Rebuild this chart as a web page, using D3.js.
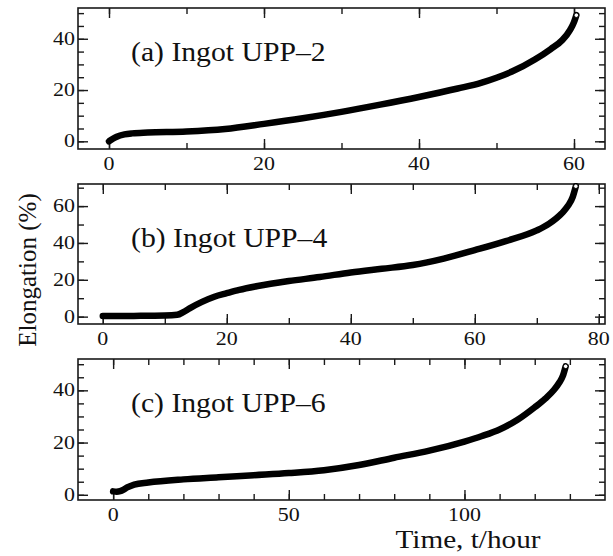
<!DOCTYPE html>
<html>
<head>
<meta charset="utf-8">
<script src="https://cdn.jsdelivr.net/npm/d3@7"></script>
<style>
  body { margin: 0; background: #fff; }
  svg { display: block; }
  text { font-family: "Liberation Serif", "Times New Roman", serif; fill: #111; }
</style>
</head>
<body>
<div id="chart"></div>
<script>
// elongation curves (t in hours, elongation in %)
const timeA = [0, 0.5, 1, 2, 3, 5, 10, 15, 20, 25, 30, 35, 40, 45, 48, 50, 52, 55, 57, 58.5, 59.5, 60, 60.3];
const elongA = [0, 1.0, 1.8, 2.7, 3.1, 3.4, 3.8, 4.8, 6.8, 9.0, 11.5, 14.3, 17.3, 20.6, 22.8, 24.8, 27.2, 32.0, 36.0, 39.5, 43.5, 46.5, 49.2];

const timeB = [0, 5, 10, 12, 13, 14, 16, 18, 20, 22, 25, 30, 35, 40, 45, 50, 55, 60, 65, 70, 72, 74, 75, 75.8, 76.3];
const elongB = [0.3, 0.4, 0.6, 1.0, 2.5, 4.5, 8.0, 10.8, 12.7, 14.5, 16.6, 19.3, 21.5, 24.0, 26.0, 28.0, 31.5, 36.1, 41.0, 46.8, 50.5, 56.0, 60.0, 65.0, 70.8];

const timeC = [0, 1, 2, 3, 4, 6, 10, 20, 30, 40, 50, 60, 70, 80, 90, 100, 105, 110, 115, 120, 123, 125.5, 127, 128, 128.8];
const elongC = [1.3, 1.2, 1.4, 2.0, 2.8, 3.9, 4.7, 5.9, 6.7, 7.5, 8.3, 9.4, 11.4, 14.2, 16.9, 20.4, 22.5, 25.0, 28.6, 33.5, 36.8, 40.2, 43.0, 45.5, 49.2];

const labels = ["(a) Ingot UPP\u20132", "(b) Ingot UPP\u20134", "(c) Ingot UPP\u20136"];

// tick values per panel
const xMajorA = [0, 20, 40, 60], xMinorA = d3.range(0, 61, 10);
const yMajorA = [0, 20, 40], yMinorA = d3.range(0, 51, 5);
const xMajorB = [0, 20, 40, 60, 80], xMinorB = d3.range(0, 81, 10);
const yMajorB = [0, 20, 40, 60], yMinorB = d3.range(0, 71, 10);
const xMajorC = [0, 50, 100], xMinorC = d3.range(0, 131, 10);
const yMajorC = [0, 20, 40], yMinorC = d3.range(0, 51, 5);

const W = 613, H = 556;
const left = 78, right = 605;

const panels = [
  { t: timeA, e: elongA, label: labels[0], top: 8, bottom: 149, xd: [-4, 64], yd: [-3, 52],
    xMaj: xMajorA, xMin: xMinorA, yMaj: yMajorA, yMin: yMinorA, labY: 61 },
  { t: timeB, e: elongB, label: labels[1], top: 184, bottom: 324, xd: [-4, 81], yd: [-4, 72],
    xMaj: xMajorB, xMin: xMinorB, yMaj: yMajorB, yMin: yMinorB, labY: 247 },
  { t: timeC, e: elongC, label: labels[2], top: 359, bottom: 500, xd: [-10, 140], yd: [-2, 52],
    xMaj: xMajorC, xMin: xMinorC, yMaj: yMajorC, yMin: yMinorC, labY: 412 }
];

const svg = d3.select("#chart").append("svg").attr("width", W).attr("height", H);
const ink = "#1a1a1a";

function tickAxis(g, axis, values, size) {
  g.call(axis.tickValues(values).tickSize(-size).tickSizeOuter(0).tickFormat(""));
  g.select(".domain").remove();
  g.selectAll("line").attr("stroke", ink).attr("stroke-width", 1.4);
}

panels.forEach(p => {
  const x = d3.scaleLinear().domain(p.xd).range([left, right]);
  const y = d3.scaleLinear().domain(p.yd).range([p.bottom, p.top]);
  const g = svg.append("g");

  // ticks on all four sides, pointing inward
  [[p.xMin, 6], [p.xMaj, 10]].forEach(([vals, len]) => {
    tickAxis(g.append("g").attr("transform", `translate(0,${p.bottom})`), d3.axisBottom(x), vals, len);
    tickAxis(g.append("g").attr("transform", `translate(0,${p.top})`), d3.axisTop(x), vals, len);
  });
  [[p.yMin, 6], [p.yMaj, 10]].forEach(([vals, len]) => {
    tickAxis(g.append("g").attr("transform", `translate(${left},0)`), d3.axisLeft(y), vals, len);
    tickAxis(g.append("g").attr("transform", `translate(${right},0)`), d3.axisRight(y), vals, len);
  });

  // frame
  g.append("rect")
    .attr("x", left).attr("y", p.top)
    .attr("width", right - left).attr("height", p.bottom - p.top)
    .attr("fill", "none").attr("stroke", ink).attr("stroke-width", 1.6);

  // tick labels
  g.selectAll("text.xl").data(p.xMaj).join("text").attr("class", "xl")
    .attr("transform", d => `translate(${x(d)},${p.bottom + 21}) scale(1.22,1)`)
    .attr("text-anchor", "middle").attr("font-size", 18)
    .text(d => d);
  g.selectAll("text.yl").data(p.yMaj).join("text").attr("class", "yl")
    .attr("transform", d => `translate(${left - 3},${y(d) + 6}) scale(1.22,1)`)
    .attr("text-anchor", "end").attr("font-size", 18)
    .text(d => d);

  // curve
  const pts = p.t.map((t, i) => [t, p.e[i]]);
  const line = d3.line().x(d => x(d[0])).y(d => y(d[1])).curve(d3.curveMonotoneX);
  g.append("path").datum(pts).attr("d", line)
    .attr("fill", "none").attr("stroke", "#000").attr("stroke-width", 6.5)
    .attr("stroke-linecap", "round").attr("stroke-linejoin", "round");
  const last = pts[pts.length - 1];
  g.append("circle").attr("cx", x(last[0])).attr("cy", y(last[1])).attr("r", 2.3)
    .attr("fill", "#fff").attr("stroke", "#000").attr("stroke-width", 1);

  // panel label
  g.append("text")
    .attr("transform", `translate(131,${p.labY}) scale(1.1,1)`)
    .attr("font-size", 27)
    .text(p.label);
});

svg.append("text")
  .attr("transform", `translate(468,548) scale(1.17,1)`)
  .attr("text-anchor", "middle").attr("font-size", 25)
  .text("Time, t/hour");

svg.append("text")
  .attr("transform", "translate(36,270) rotate(-90)")
  .attr("text-anchor", "middle").attr("font-size", 25)
  .text("Elongation (%)");
</script>
</body>
</html>
